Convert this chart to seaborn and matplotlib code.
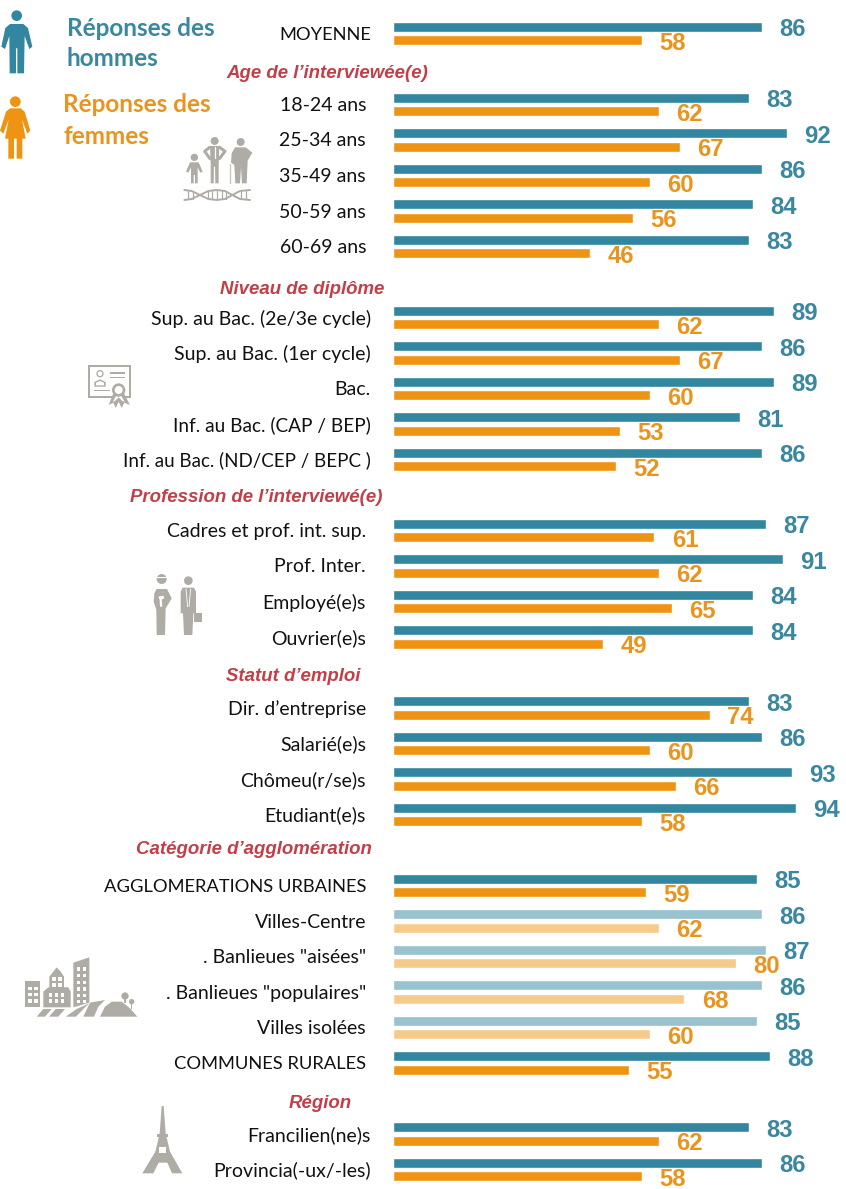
"""Réponses des hommes / des femmes par catégorie : barres groupées seaborn."""

import matplotlib

matplotlib.use("Agg")
import matplotlib.pyplot as plt
import pandas as pd
import seaborn as sns
from matplotlib.patches import Circle, Polygon, Rectangle
from matplotlib.transforms import blended_transform_factory

TEAL = "#33869F"
ORANGE = "#EE9412"
PALE_TEAL = "#99C2CF"
PALE_ORANGE = "#F6CA89"
TEAL_TEXT = "#3A87A0"
ORANGE_TEXT = "#E9941E"
HEADER_RED = "#C23F48"
ICON_GREY = "#AEACA4"

# one list per block, the first entry of a block being its header row
moyenne_rows = ["MOYENNE"]
moyenne_men = [86]
moyenne_women = [58]

age_rows = ["Age de l’interviewée(e)", "18-24 ans", "25-34 ans", "35-49 ans", "50-59 ans", "60-69 ans"]
age_men = [None, 83, 92, 86, 84, 83]
age_women = [None, 62, 67, 60, 56, 46]

diplome_rows = [
    "Niveau de diplôme",
    "Sup. au Bac. (2e/3e cycle)",
    "Sup. au Bac. (1er cycle)",
    "Bac.",
    "Inf. au Bac. (CAP / BEP)",
    "Inf. au Bac. (ND/CEP / BEPC )",
]
diplome_men = [None, 89, 86, 89, 81, 86]
diplome_women = [None, 62, 67, 60, 53, 52]

profession_rows = ["Profession de l’interviewé(e)", "Cadres et prof. int. sup.", "Prof. Inter.", "Employé(e)s", "Ouvrier(e)s"]
profession_men = [None, 87, 91, 84, 84]
profession_women = [None, 61, 62, 65, 49]

statut_rows = ["Statut d’emploi", "Dir. d’entreprise", "Salarié(e)s", "Chômeu(r/se)s", "Etudiant(e)s"]
statut_men = [None, 83, 86, 93, 94]
statut_women = [None, 74, 60, 66, 58]

agglo_rows = [
    "Catégorie d’agglomération",
    "AGGLOMERATIONS URBAINES",
    "Villes-Centre",
    ". Banlieues \"aisées\"",
    ". Banlieues \"populaires\"",
    "Villes isolées",
    "COMMUNES RURALES",
]
agglo_men = [None, 85, 86, 87, 86, 85, 88]
agglo_women = [None, 59, 62, 80, 68, 60, 55]

region_rows = ["Région", "Francilien(ne)s", "Provincia(-ux/-les)"]
region_men = [None, 83, 86]
region_women = [None, 62, 58]

pale_rows = ["Villes-Centre", ". Banlieues \"aisées\"", ". Banlieues \"populaires\"", "Villes isolées"]

rows = moyenne_rows + age_rows + diplome_rows + profession_rows + statut_rows + agglo_rows + region_rows
men = moyenne_men + age_men + diplome_men + profession_men + statut_men + agglo_men + region_men
women = moyenne_women + age_women + diplome_women + profession_women + statut_women + agglo_women + region_women

# right edge (px) of the row labels, and right edge + y nudge (px) of the headers
LABEL_RIGHT = [
    (moyenne_rows, 371),
    (age_rows, 366),
    (diplome_rows, 371),
    (profession_rows, 366),
    (statut_rows, 366),
    (agglo_rows, 366),
    (region_rows, 371),
]
HEADER_POS = {
    age_rows[0]: (428, 3),
    diplome_rows[0]: (384, 6),
    profession_rows[0]: (383, 0),
    statut_rows[0]: (360, 2),
    agglo_rows[0]: (372, -2),
    region_rows[0]: (352, 3),
}

# Lato capitals run wider than the original's, so cap-heavy labels get a smaller size
LABEL_SIZE = 14
LABEL_SIZE_CAPS = {
    "MOYENNE": 13.2,
    "AGGLOMERATIONS URBAINES": 13.2,
    "COMMUNES RURALES": 13.2,
    "Inf. au Bac. (CAP / BEP)": 13.7,
    "Inf. au Bac. (ND/CEP / BEPC )": 13.5,
}

W, H = 846, 1189
BAR_LEFT = 393
PX_PER_UNIT = 4.285
ROW_TOP = 33.5
ROW_STEP = 35.5


def add_poly(px, pts, color=ICON_GREY, dx=0, dy=0):
    """Icon polygon, points given in the 3x zoom coordinates they were read from."""
    px.add_patch(Polygon([(x / 3 + dx, y / 3 + dy) for x, y in pts], closed=True, fc=color, ec="none"))


def add_disc(px, x, y, r, color=ICON_GREY, dx=0, dy=0):
    px.add_patch(Circle((x / 3 + dx, y / 3 + dy), r / 3, fc=color, ec="none"))


def add_rect(px, x0, y0, x1, y1, color=ICON_GREY, dx=0, dy=0):
    px.add_patch(Rectangle((x0 / 3 + dx, y0 / 3 + dy), (x1 - x0) / 3, (y1 - y0) / 3, fc=color, ec="none"))


def add_line(px, pts, lw=1.0, color=ICON_GREY, dx=0, dy=0):
    px.plot([p[0] / 3 + dx for p in pts], [p[1] / 3 + dy for p in pts], color=color, lw=lw, solid_capstyle="round")


def draw_man(px):
    add_disc(px, 50, 47, 16, TEAL)
    add_poly(
        px,
        [(30, 72), (70, 72), (84, 84), (97, 140), (88, 147), (74, 108), (72, 220), (52, 220), (52, 145),
         (48, 145), (48, 220), (29, 220), (28, 108), (15, 147), (4, 140), (16, 84)],
        TEAL,
    )


def draw_woman(px):
    add_disc(px, 46, 305, 16, ORANGE)
    add_poly(
        px,
        [(30, 325), (62, 325), (74, 335), (91, 392), (82, 401), (66, 358), (77, 416), (67, 416), (67, 476),
         (50, 476), (50, 416), (42, 416), (42, 476), (25, 476), (25, 416), (15, 416), (26, 358), (10, 401),
         (0, 392), (18, 335)],
        ORANGE,
    )


def draw_family(px):
    off = dict(dx=175, dy=130)
    # child
    add_disc(px, 58, 82, 11, **off)
    add_poly(px, [(45, 97), (71, 97), (83, 125), (76, 128), (68, 112), (68, 160), (60, 160), (60, 135), (56, 135),
                  (56, 160), (48, 160), (48, 112), (40, 128), (33, 125)], **off)
    # adult, arms akimbo
    add_disc(px, 119, 33, 12, **off)
    add_poly(px, [(105, 48), (133, 48), (131, 100), (131, 160), (121, 160), (120, 110), (117, 110), (116, 160),
                  (107, 160), (107, 100)], **off)
    add_line(px, [(104, 52), (89, 64), (105, 86)], lw=2.2, **off)
    add_line(px, [(134, 52), (150, 64), (133, 86)], lw=2.2, **off)
    add_line(px, [(119, 52), (119, 85)], lw=0.9, color="white", **off)
    # elder and cane
    add_disc(px, 197, 36, 12, **off)
    add_poly(px, [(180, 52), (212, 52), (232, 68), (218, 92), (215, 160), (201, 160), (198, 112), (195, 160),
                  (181, 160), (178, 105), (168, 98), (170, 70)], **off)
    add_line(px, [(165, 102), (165, 158)], lw=1.0, color="#C9C7C0", **off)
    # DNA strands
    top = [(28, 180), (50, 183), (75, 195), (100, 207), (125, 210), (150, 207), (172, 195), (195, 183), (225, 180)]
    bottom = [(28, 210), (50, 207), (75, 195), (100, 183), (125, 180), (150, 183), (172, 195), (195, 207), (225, 210)]
    add_line(px, top, lw=1.4, **off)
    add_line(px, bottom, lw=1.4, **off)
    for x in (40, 54, 98, 112, 125, 140, 152, 198, 212):
        add_line(px, [(x, 184), (x, 206)], lw=0.9, **off)


def draw_diploma(px):
    off = dict(dx=60, dy=360)
    add_rect(px, 85, 15, 213, 115, **off)
    add_rect(px, 91, 21, 207, 109, "white", **off)
    add_disc(px, 120, 41, 11, **off)
    add_disc(px, 120, 41, 7, "white", **off)
    add_poly(px, [(103, 80), (103, 66), (120, 58), (137, 66), (137, 80)], **off)
    add_poly(px, [(108, 76), (108, 68), (120, 63), (132, 68), (132, 76)], "white", **off)
    add_rect(px, 150, 37, 194, 41, **off)
    add_rect(px, 150, 50, 194, 54, **off)
    add_rect(px, 103, 90, 150, 94, **off)
    add_poly(px, [(160, 100), (192, 100), (210, 135), (193, 128), (185, 144), (176, 125), (167, 144), (160, 128), (146, 135)], **off)
    add_poly(px, [(168, 108), (184, 108), (194, 126), (186, 122), (176, 112), (166, 122), (158, 126)], "white", **off)
    add_disc(px, 176, 90, 20, **off)
    add_disc(px, 176, 90, 12, "white", **off)


def draw_workers(px):
    off = dict(dx=145, dy=565)
    # worker with helmet
    add_disc(px, 50, 42, 15, **off)
    add_rect(px, 36, 36, 66, 40, "white", **off)
    add_poly(px, [(35, 72), (66, 72), (80, 100), (62, 130), (60, 210), (35, 210), (34, 135), (26, 110), (28, 85)], **off)
    add_poly(px, [(40, 95), (55, 92), (58, 100), (50, 104), (52, 125), (45, 125), (44, 104)], "white", **off)
    # suit and briefcase
    add_disc(px, 130, 47, 13, **off)
    add_poly(px, [(113, 68), (147, 68), (153, 80), (153, 145), (145, 145), (142, 210), (117, 210), (114, 145),
                  (107, 145), (107, 80)], **off)
    add_line(px, [(123, 72), (128, 125)], lw=0.6, color="white", **off)
    add_line(px, [(137, 72), (132, 125)], lw=0.6, color="white", **off)
    add_rect(px, 147, 145, 172, 172, **off)


def draw_city(px):
    off = dict(dx=20, dy=950)
    add_rect(px, 15, 92, 60, 172, **off)
    add_poly(px, [(70, 172), (70, 125), (85, 112), (88, 112), (88, 80), (100, 65), (110, 52), (122, 65), (132, 80),
                  (132, 112), (145, 112), (152, 125), (152, 172)], **off)
    add_poly(px, [(160, 38), (208, 22), (208, 158), (160, 172)], **off)
    for x in (25, 43):
        for y in (110, 128, 148):
            add_rect(px, x, y, x + 10, y + 10, "white", **off)
    for x in (97, 115):
        for y in (82, 100):
            add_rect(px, x, y, x + 10, y + 10, "white", **off)
    for x in (87, 105, 123):
        for y in (130, 148):
            add_rect(px, x, y, x + 10, y + 10, "white", **off)
    for x in (170, 188):
        for y in (52, 72, 92, 112, 132, 150):
            add_rect(px, x, y, x + 10, y + 10, "white", **off)
    add_poly(px, [(50, 200), (75, 200), (95, 177), (70, 177)], **off)
    add_poly(px, [(87, 200), (115, 200), (135, 177), (107, 177)], **off)
    add_poly(px, [(137, 200), (168, 200), (195, 172), (208, 160), (170, 177)], **off)
    add_poly(px, [(190, 200), (222, 200), (235, 170), (255, 150), (210, 158)], **off)
    add_poly(px, [(240, 200), (352, 200), (330, 175), (305, 155), (275, 155), (255, 170)], **off)
    add_disc(px, 315, 138, 11, **off)
    add_disc(px, 335, 155, 8, **off)
    add_rect(px, 313, 145, 317, 160, **off)
    add_rect(px, 333, 160, 337, 178, **off)


def draw_eiffel(px):
    off = dict(dx=0, dy=840)
    add_poly(
        px,
        [(485, 798), (491, 798), (497, 880), (510, 935), (547, 1000), (516, 1000), (502, 968), (476, 968),
         (460, 1000), (427, 1000), (466, 935), (479, 880)],
        **off,
    )
    add_rect(px, 472, 883, 504, 892, **off)
    add_rect(px, 478, 922, 498, 938, "white", **off)


sns.set_theme(style="white")
plt.rcParams["font.family"] = ["Lato", "DejaVu Sans"]

df = pd.DataFrame(
    {
        "row": rows * 2,
        "series": ["Hommes"] * len(rows) + ["Femmes"] * len(rows),
        "value": pd.to_numeric(pd.Series(men + women), errors="coerce"),
    }
)

fig = plt.figure(figsize=(W / 100, H / 100), dpi=100, facecolor="white")

# pixel-coordinate layer for the icons and the text outside the bars
px = fig.add_axes([0, 0, 1, 1])
px.set_xlim(0, W)
px.set_ylim(H, 0)
px.axis("off")

ax = fig.add_axes([BAR_LEFT / W, 0, (W - BAR_LEFT) / W, 1], facecolor="none")
sns.barplot(
    data=df,
    y="row",
    x="value",
    hue="series",
    order=rows,
    hue_order=["Hommes", "Femmes"],
    palette={"Hommes": TEAL, "Femmes": ORANGE},
    orient="y",
    width=0.76,
    gap=0.26,
    saturation=1,
    errorbar=None,
    legend=False,
    ax=ax,
)
ax.set_xlim(0, (W - BAR_LEFT) / PX_PER_UNIT)
ax.set_ylim((H - ROW_TOP) / ROW_STEP, -ROW_TOP / ROW_STEP)
ax.axis("off")

# sub-categories are drawn in pale tints
pale_idx = {rows.index(r) for r in pale_rows}
for container, pale_color in zip(ax.containers, (PALE_TEAL, PALE_ORANGE)):
    for bar in container:
        if round(bar.get_y() + bar.get_height() / 2) in pale_idx:
            bar.set_facecolor(pale_color)

for container, text_color in zip(ax.containers, (TEAL_TEXT, ORANGE_TEXT)):
    labels = ax.bar_label(
        container,
        fmt="%d",
        padding=12.5,
        color=text_color,
        fontsize=17.2,
        fontweight="bold",
        family="Liberation Sans",
        clip_on=False,
    )
    # numbers sit a little below the bar centre
    for label in labels:
        label.xyann = (12.5, -2.2)

# row labels and section headers
tf = blended_transform_factory(px.transData, ax.transData)
for block, right in LABEL_RIGHT:
    for name in block:
        if name in HEADER_POS:
            continue
        ax.text(right, rows.index(name) + 1 / ROW_STEP, name, transform=tf, ha="right", va="center",
                fontsize=LABEL_SIZE_CAPS.get(name, LABEL_SIZE), color="#111111", clip_on=False)

for name, (right, nudge) in HEADER_POS.items():
    ax.text(
        right,
        rows.index(name) + (nudge + 2) / ROW_STEP,
        name,
        transform=tf,
        ha="right",
        va="center",
        fontsize=13.4,
        fontweight="bold",
        fontstyle="italic",
        family="Liberation Sans",
        color=HEADER_RED,
        clip_on=False,
    )

# legend block
legend_text = dict(fontsize=17.5, fontweight="bold", va="center", ha="left")
px.text(67, 28, "Réponses des", color=TEAL_TEXT, **legend_text)
px.text(67, 59, "hommes", color=TEAL_TEXT, **legend_text)
px.text(63, 105, "Réponses des", color=ORANGE_TEXT, **legend_text)
px.text(63, 136, "femmes", color=ORANGE_TEXT, **legend_text)

draw_man(px)
draw_woman(px)
draw_family(px)
draw_diploma(px)
draw_workers(px)
draw_city(px)
draw_eiffel(px)

fig.savefig("out.png", dpi=100)
